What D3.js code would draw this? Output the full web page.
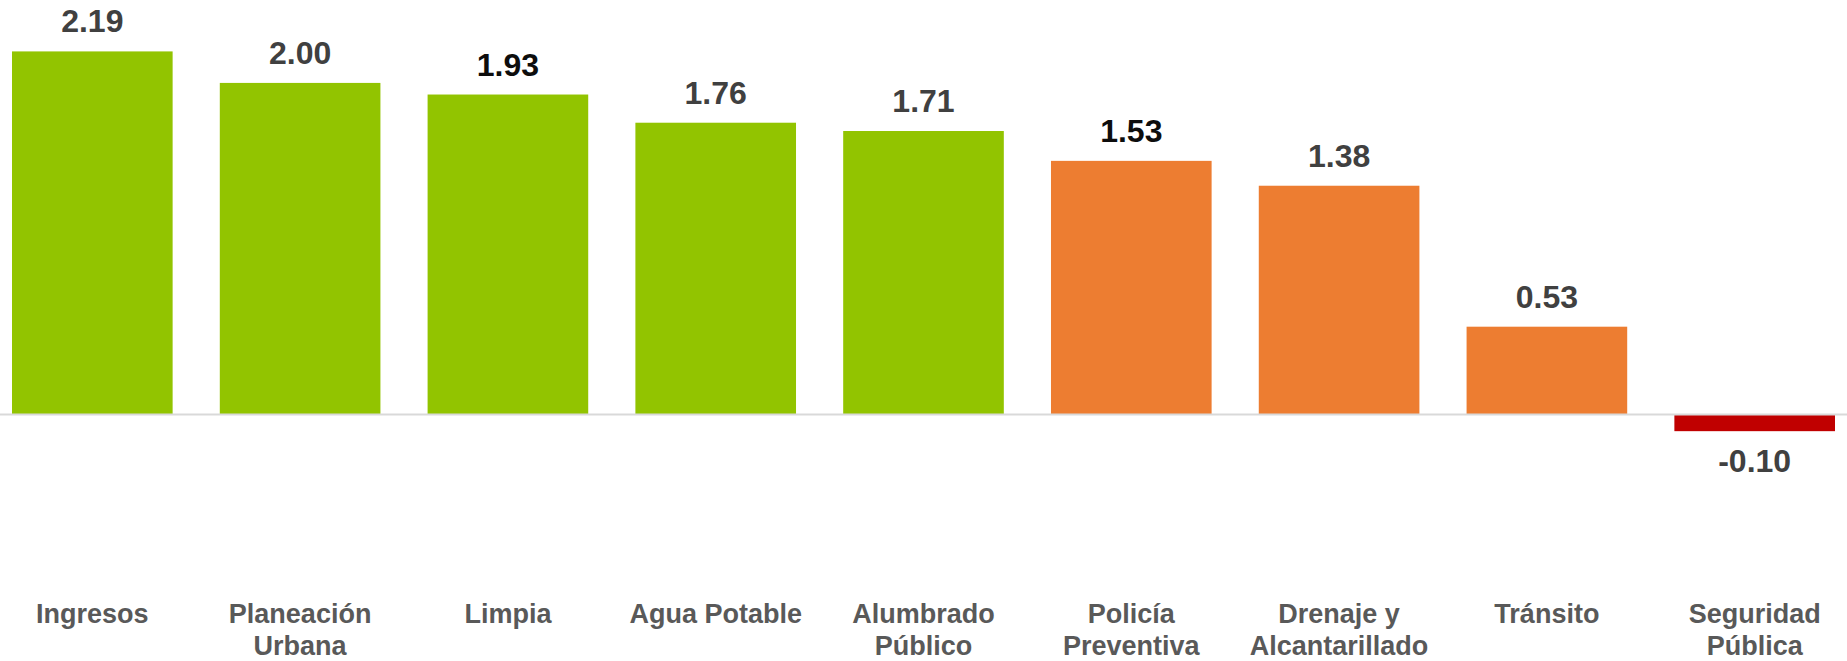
<!DOCTYPE html>
<html>
<head>
<meta charset="utf-8">
<script src="https://cdn.jsdelivr.net/npm/d3@7"></script>
<style>
  body { margin: 0; background: #fff; }
  svg text { font-family: "Liberation Sans", Arial, sans-serif; font-weight: bold; }
</style>
</head>
<body>
<div class="canvas"></div>
<script>
const categories = [
    ['Ingresos'],
    ['Planeación', 'Urbana'],
    ['Limpia'],
    ['Agua Potable'],
    ['Alumbrado', 'Público'],
    ['Policía', 'Preventiva'],
    ['Drenaje y', 'Alcantarillado'],
    ['Tránsito'],
    ['Seguridad', 'Pública']
];
const values = [2.19, 2.00, 1.93, 1.76, 1.71, 1.53, 1.38, 0.53, -0.10];
const groups = ['alto', 'alto', 'alto', 'alto', 'alto', 'medio', 'medio', 'medio', 'bajo'];
const darkLabels = [2, 5];

const width = 1847, height = 661;

const svg = d3.select('.canvas')
    .append('svg')
    .attr('width', width)
    .attr('height', height);

const data = values.map((v, i) => ({ i, value: v, name: categories[i], group: groups[i] }));

const x = d3.scaleBand()
    .domain(d3.range(values.length))
    .range([12, 1835])
    .paddingInner(0.227)
    .paddingOuter(0);

const y = d3.scaleLinear()
    .domain([-0.5, 2.5])
    .range([497.5, 0]);

const colour = d3.scaleOrdinal()
    .domain(['alto', 'medio', 'bajo'])
    .range(['#92c400', '#ed7d31', '#c00000']);

// plain hyphen for negatives, like the original
const fmt = d3.formatLocale({ decimal: '.', thousands: ',', grouping: [3], currency: ['', ''], minus: '-' }).format('.2f');

// bars
svg.selectAll('rect.bar')
    .data(data)
    .enter()
    .append('rect')
    .attr('class', 'bar')
    .attr('x', d => x(d.i))
    .attr('width', x.bandwidth())
    .attr('y', d => y(Math.max(0, d.value)))
    .attr('height', d => Math.abs(y(d.value) - y(0)))
    .attr('fill', d => colour(d.group));

// zero line
svg.append('line')
    .attr('x1', 0)
    .attr('x2', width)
    .attr('y1', y(0))
    .attr('y2', y(0))
    .attr('stroke', '#d9d9d9')
    .attr('stroke-width', 2);

// value labels
svg.selectAll('text.value')
    .data(data)
    .enter()
    .append('text')
    .attr('class', 'value')
    .attr('x', d => x(d.i) + x.bandwidth() / 2)
    .attr('y', d => d.value >= 0 ? y(d.value) - 19 : y(d.value) + 41)
    .attr('text-anchor', 'middle')
    .style('font-size', '32px')
    .attr('fill', d => darkLabels.includes(d.i) ? '#0d0d0d' : '#404040')
    .text(d => fmt(d.value));

// category labels
const cats = svg.selectAll('text.cat')
    .data(data)
    .enter()
    .append('text')
    .attr('class', 'cat')
    .attr('text-anchor', 'middle')
    .attr('fill', '#595959')
    .style('font-size', '27px');

cats.selectAll('tspan')
    .data(d => d.name.map(line => ({ line, cx: x(d.i) + x.bandwidth() / 2 })))
    .enter()
    .append('tspan')
    .attr('x', d => d.cx)
    .attr('y', (d, j) => 623 + j * 32)
    .text(d => d.line);
</script>
</body>
</html>
